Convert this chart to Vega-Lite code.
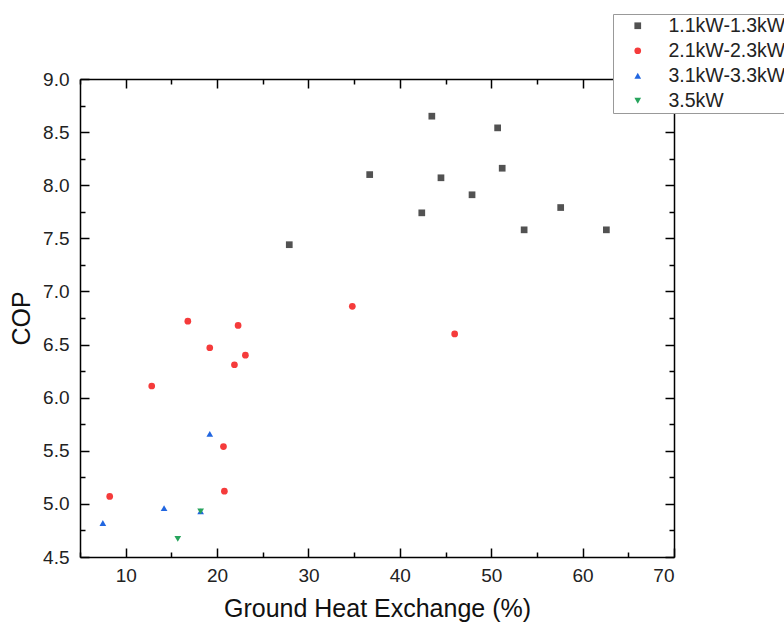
{
  "$schema": "https://vega.github.io/schema/vega-lite/v6.json",
  "width": 594,
  "height": 478,
  "autosize": "none",
  "padding": {"left": 80, "top": 79, "right": 110, "bottom": 73},
  "config": {
    "view": {"stroke": null},
    "font": "Liberation Sans",
    "axis": {
      "domainColor": "black",
      "domainWidth": 1.5,
      "tickColor": "black",
      "tickWidth": 1.5,
      "grid": false,
      "labelFont": "Liberation Sans",
      "labelFontSize": 19,
      "labelColor": "#222222",
      "titleFont": "Liberation Sans",
      "titleFontSize": 25,
      "titleFontWeight": "normal",
      "titleColor": "#111111"
    },
    "legend": {
      "orient": "none",
      "legendX": 533,
      "legendY": -65,
      "fillColor": "white",
      "strokeColor": "#999999",
      "padding": 2,
      "labelFont": "Liberation Sans",
      "labelFontSize": 19.5,
      "labelColor": "#222222",
      "symbolOffset": 13,
      "labelOffset": 21,
      "rowPadding": 4,
      "title": null
    }
  },
  "data": {
    "values": [
      {"g": 43.5, "cop": 8.65, "s": "1.1kW-1.3kW"},
      {"g": 50.7, "cop": 8.54, "s": "1.1kW-1.3kW"},
      {"g": 51.2, "cop": 8.16, "s": "1.1kW-1.3kW"},
      {"g": 44.5, "cop": 8.07, "s": "1.1kW-1.3kW"},
      {"g": 47.9, "cop": 7.91, "s": "1.1kW-1.3kW"},
      {"g": 42.4, "cop": 7.74, "s": "1.1kW-1.3kW"},
      {"g": 57.6, "cop": 7.79, "s": "1.1kW-1.3kW"},
      {"g": 53.6, "cop": 7.58, "s": "1.1kW-1.3kW"},
      {"g": 62.6, "cop": 7.58, "s": "1.1kW-1.3kW"},
      {"g": 27.9, "cop": 7.44, "s": "1.1kW-1.3kW"},
      {"g": 36.7, "cop": 8.10, "s": "1.1kW-1.3kW"},
      {"g": 16.8, "cop": 6.72, "s": "2.1kW-2.3kW"},
      {"g": 22.3, "cop": 6.68, "s": "2.1kW-2.3kW"},
      {"g": 19.2, "cop": 6.47, "s": "2.1kW-2.3kW"},
      {"g": 23.1, "cop": 6.40, "s": "2.1kW-2.3kW"},
      {"g": 21.9, "cop": 6.31, "s": "2.1kW-2.3kW"},
      {"g": 12.85, "cop": 6.11, "s": "2.1kW-2.3kW"},
      {"g": 20.7, "cop": 5.54, "s": "2.1kW-2.3kW"},
      {"g": 20.8, "cop": 5.12, "s": "2.1kW-2.3kW"},
      {"g": 8.25, "cop": 5.07, "s": "2.1kW-2.3kW"},
      {"g": 34.8, "cop": 6.86, "s": "2.1kW-2.3kW"},
      {"g": 46.0, "cop": 6.60, "s": "2.1kW-2.3kW"},
      {"g": 19.2, "cop": 5.66, "s": "3.1kW-3.3kW"},
      {"g": 14.2, "cop": 4.96, "s": "3.1kW-3.3kW"},
      {"g": 7.5, "cop": 4.82, "s": "3.1kW-3.3kW"},
      {"g": 18.2, "cop": 4.93, "s": "3.1kW-3.3kW"},
      {"g": 15.7, "cop": 4.67, "s": "3.5kW"},
      {"g": 18.2, "cop": 4.93, "s": "3.5kW"}
    ]
  },
  "layer": [
    {
      "mark": {"type": "point", "filled": true, "opacity": 1},
      "encoding": {
        "x": {
          "field": "g", "type": "quantitative",
          "scale": {"domain": [5, 70], "nice": false, "zero": false},
          "axis": {
            "orient": "bottom",
            "title": "Ground Heat Exchange (%)",
            "values": [5, 10, 15, 20, 25, 30, 35, 40, 45, 50, 55, 60, 65, 70],
            "labelExpr": "datum.value % 10 === 0 ? datum.label : ''",
            "tickSize": {"condition": {"test": "datum.value % 10 === 0", "value": -9}, "value": -5},
            "labelPadding": 18,
            "titlePadding": 11
          }
        },
        "y": {
          "field": "cop", "type": "quantitative",
          "scale": {"domain": [4.5, 9], "nice": false, "zero": false},
          "axis": {
            "orient": "left",
            "title": "COP",
            "format": ".1f",
            "values": [4.5, 4.75, 5, 5.25, 5.5, 5.75, 6, 6.25, 6.5, 6.75, 7, 7.25, 7.5, 7.75, 8, 8.25, 8.5, 8.75, 9],
            "labelExpr": "abs(datum.value*2 - round(datum.value*2)) < 0.001 ? datum.label : ''",
            "tickSize": {"condition": {"test": "abs(datum.value*2 - round(datum.value*2)) < 0.001", "value": -9}, "value": -5},
            "labelPadding": 20,
            "titlePadding": 8
          }
        },
        "color": {
          "field": "s", "type": "nominal",
          "scale": {"domain": ["1.1kW-1.3kW", "2.1kW-2.3kW", "3.1kW-3.3kW", "3.5kW"], "range": ["#525252", "#f53b3b", "#2166e0", "#27a45c"]},
          "legend": {}
        },
        "shape": {
          "field": "s", "type": "nominal",
          "scale": {"domain": ["1.1kW-1.3kW", "2.1kW-2.3kW", "3.1kW-3.3kW", "3.5kW"], "range": ["square", "circle", "triangle-up", "triangle-down"]},
          "legend": {}
        },
        "size": {
          "field": "s", "type": "nominal",
          "scale": {"domain": ["1.1kW-1.3kW", "2.1kW-2.3kW", "3.1kW-3.3kW", "3.5kW"], "range": [45, 45, 80, 80]},
          "legend": {}
        }
      }
    },
    {
      "mark": {"type": "point", "opacity": 0},
      "encoding": {
        "x": {
          "field": "g", "type": "quantitative",
          "axis": {
            "orient": "top",
            "title": null,
            "values": [5, 10, 15, 20, 25, 30, 35, 40, 45, 50, 55, 60, 65, 70],
            "labels": false,
            "tickSize": {"condition": {"test": "datum.value % 10 === 0", "value": -9}, "value": -5}
          }
        },
        "y": {
          "field": "cop", "type": "quantitative",
          "axis": {
            "orient": "right",
            "title": null,
            "values": [4.5, 4.75, 5, 5.25, 5.5, 5.75, 6, 6.25, 6.5, 6.75, 7, 7.25, 7.5, 7.75, 8, 8.25, 8.5, 8.75, 9],
            "labels": false,
            "tickSize": {"condition": {"test": "abs(datum.value*2 - round(datum.value*2)) < 0.001", "value": -9}, "value": -5}
          }
        }
      }
    }
  ],
  "resolve": {"axis": {"x": "independent", "y": "independent"}}
}
